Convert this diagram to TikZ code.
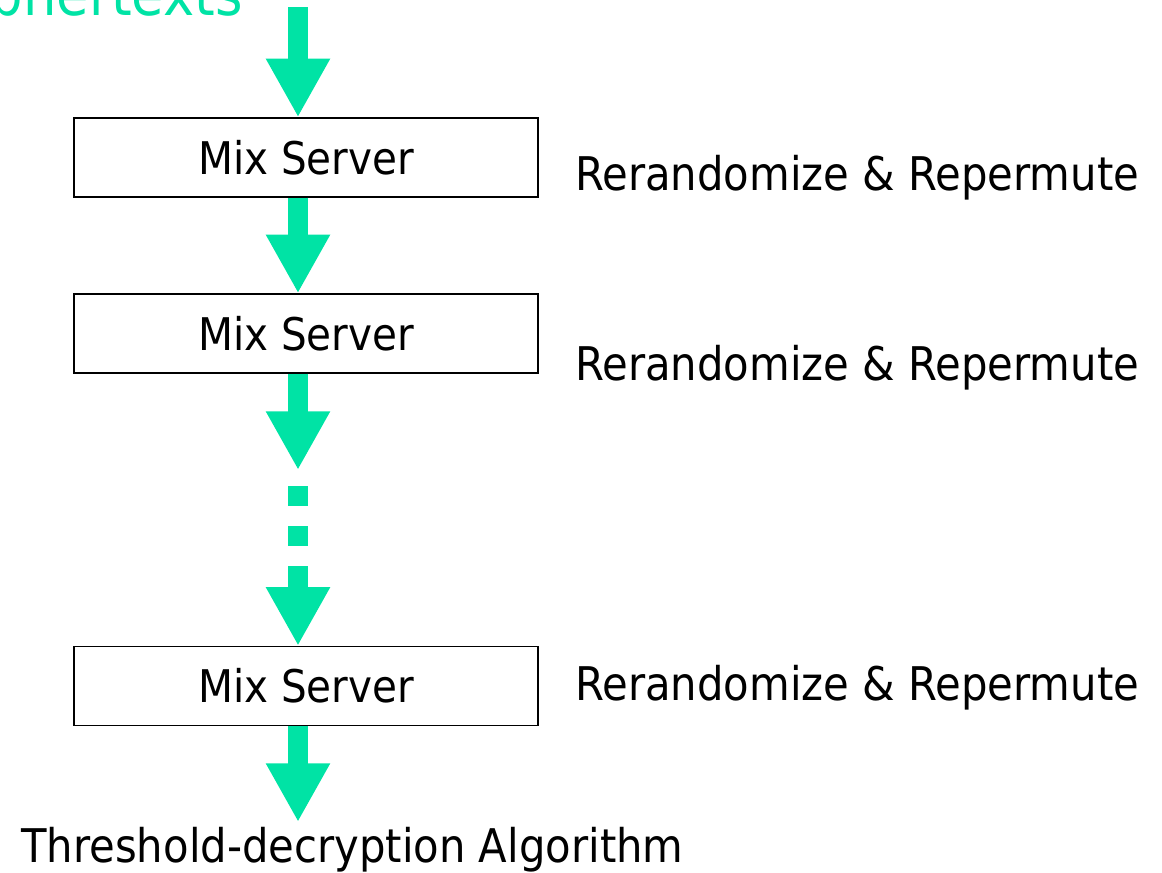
\documentclass[tikz,border=0pt]{standalone}
\usepackage{fontspec}
\setmainfont[FakeStretch=0.9]{DejaVu Sans}
\usetikzlibrary{arrows.meta}
\definecolor{mixgreen}{RGB}{0,227,165}
\tikzset{
  server/.style={draw=black, line width=1pt, fill=white, minimum width=348pt,
    minimum height=59.25pt, inner sep=0pt, font=\fontsize{33.75}{40}\selectfont},
  label/.style={anchor=west, inner sep=0pt, font=\fontsize{34.8}{41}\selectfont},
  flow/.style={draw=mixgreen, line width=15pt, line cap=butt,
    -{Triangle[length=44pt, width=45pt]}},
  gap/.style={fill=mixgreen, draw=none, minimum size=15pt, inner sep=0pt},
}
\begin{document}
\begin{tikzpicture}[x=0.75pt, y=-0.75pt]
  \useasboundingbox (0,0) rectangle (1162,872);
  \clip (0,0) rectangle (1162,872);

  % input text, running off the top edge
  \node[anchor=base east, inner sep=0pt, text=mixgreen,
        font=\fontsize{44}{52}\selectfont] (cipher) at (243,15) {Ciphertexts};

  % column of mix servers
  \node[server] (s1) at (306,157.5) {Mix Server};
  \node[server] (s2) at (306,333.5) {Mix Server};
  \node[server] (s3) at (306,686)   {Mix Server};

  \node[label] (r1) at (575,178) {Rerandomize \& Repermute};
  \node[label] (r2) at (575,368) {Rerandomize \& Repermute};
  \node[label] (r3) at (575,688) {Rerandomize \& Repermute};

  \node[anchor=base west, inner sep=0pt, font=\fontsize{34.8}{41}\selectfont]
    (out) at (21,862) {Threshold-decryption Algorithm};

  % flow axis and free ends
  \coordinate (ax)   at (298,0);
  \coordinate (top)  at (298,7);
  \coordinate (mid1) at (298,470);
  \coordinate (mid2) at (298,566);
  \coordinate (bot)  at (298,822);

  % ellipsis between the second and last server
  \node[gap] (d1) at (298,496) {};
  \node[gap] (d2) at (298,536) {};

  % arrows
  \draw[flow] (top) -- (s1.north -| ax);
  \draw[flow] (s1.south -| ax) -- (s2.north -| ax);
  \draw[flow] (s2.south -| ax) -- (mid1);
  \draw[flow] (mid2) -- (s3.north -| ax);
  \draw[flow] (s3.south -| ax) -- (bot);
\end{tikzpicture}
\end{document}
